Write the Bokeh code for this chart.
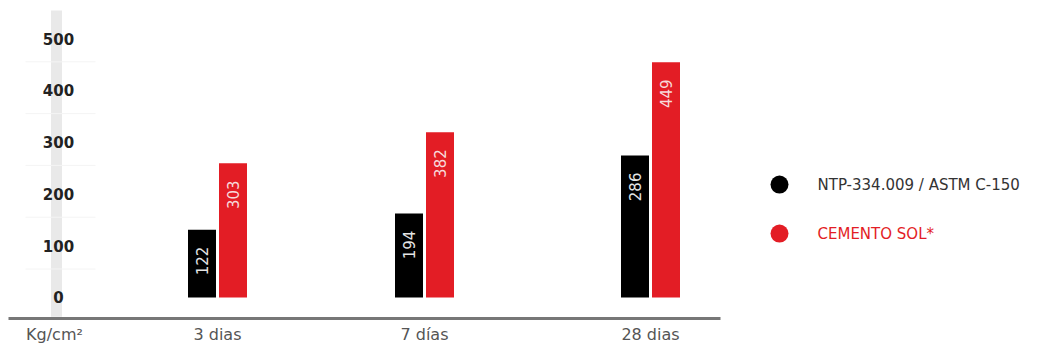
import math
from bokeh.plotting import figure
from bokeh.models import Range1d, ColumnDataSource
from bokeh.core.properties import value
from bokeh.embed import file_html
from bokeh.resources import INLINE

# ---- data ----
categories = ["3 dias", "7 días", "28 dias"]
series_names = ["NTP-334.009 / ASTM C-150", "CEMENTO SOL*"]
ntp_heights = [131, 162, 274]      # bar heights as drawn
sol_heights = [259, 319, 454]
ntp_labels = ["122", "194", "286"]  # printed values
sol_labels = ["303", "382", "449"]
y_ticks = [0, 100, 200, 300, 400, 500]
unit_label = "Kg/cm²"

# ---- layout / style ----
W, H = 1041, 349
BLACK = "#000000"
RED = "#e31d25"
group_x = [217, 424, 650]
unit_x = 56
bar_w = 28
bar_off = 15.5
FONT = value("DejaVu Sans")

p = figure(width=W, height=H, output_backend="svg", toolbar_location=None,
           x_range=Range1d(0, W), y_range=Range1d(-100.4, 573.4),
           min_border=0, outline_line_color=None)
p.axis.visible = False
p.grid.visible = False
p.background_fill_color = "white"
p.border_fill_color = "white"

# gray vertical band behind y tick labels
p.quad(left=[unit_x - 5.5], right=[unit_x + 5.5], bottom=[-37], top=[554],
       fill_color="#e9e9e9", line_color=None)
# faint separators
sep = [t + 55 for t in y_ticks[:-1]]
p.segment(x0=[25] * len(sep), x1=[95] * len(sep), y0=sep, y1=sep,
          line_color="#f4f4f4", line_width=1)

# y tick labels
p.text(x=[unit_x + 2] * len(y_ticks), y=y_ticks, text=[str(t) for t in y_ticks],
       text_font=FONT, text_font_style="bold", text_font_size="15px",
       text_color="#222222", text_align="center", text_baseline="alphabetic")

# bars
ntp_x = [c - bar_off for c in group_x]
sol_x = [c + bar_off for c in group_x]
src_n = ColumnDataSource(dict(x=ntp_x, top=ntp_heights, lab=ntp_labels))
src_s = ColumnDataSource(dict(x=sol_x, top=sol_heights, lab=sol_labels))
p.vbar(x="x", top="top", bottom=0, width=bar_w, source=src_n,
       fill_color=BLACK, line_color=None)
p.vbar(x="x", top="top", bottom=0, width=bar_w, source=src_s,
       fill_color=RED, line_color=None)

# rotated value labels
p.text(x="x", y="top", text="lab", source=src_n, angle=math.pi / 2,
       text_align="right", text_baseline="middle", y_offset=17,
       text_font=FONT, text_font_size="15px", text_color="#e4e4e4")
p.text(x="x", y="top", text="lab", source=src_s, angle=math.pi / 2,
       text_align="right", text_baseline="middle", y_offset=17,
       text_font=FONT, text_font_size="15px", text_color="#f7d9da")

# x axis line
p.segment(x0=[8], x1=[720], y0=[-40.5], y1=[-40.5], line_color="#777777", line_width=3)

# category labels
p.text(x=[unit_x - 2] + group_x, y=[-71] * 4, text=[unit_label] + categories,
       text_font=FONT, text_font_size="16px", text_color="#555555",
       text_align="center", text_baseline="middle")

# legend
leg_y = [218, 123.5]
p.scatter(x=[779, 779], y=leg_y, size=18, marker="circle",
          fill_color=[BLACK, RED], line_color=None)
p.text(x=[817, 817], y=leg_y, text=series_names,
       text_font=FONT, text_font_size="15px", text_color=["#333333", RED],
       text_align="left", text_baseline="middle")

open("out.html", "w").write(file_html(p, INLINE))
